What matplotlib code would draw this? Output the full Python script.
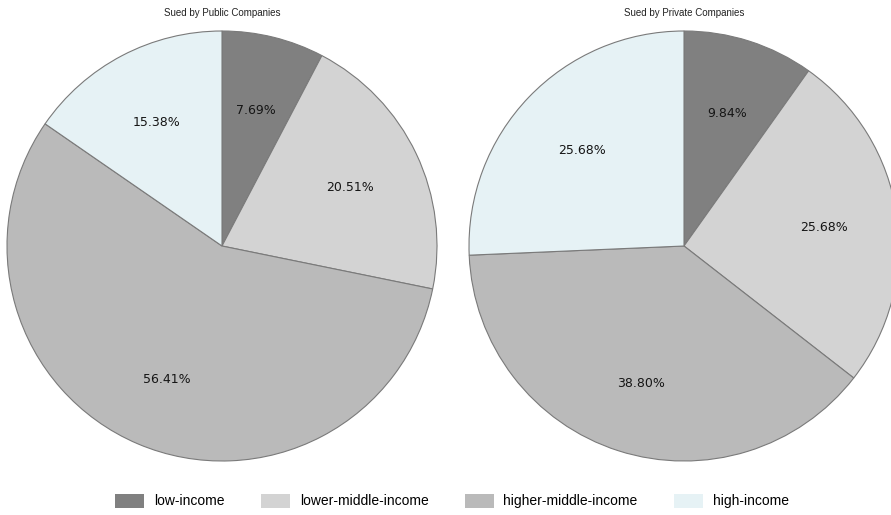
import matplotlib.pyplot as plt
from matplotlib.patches import Patch

plt.rcParams['font.family'] = ['Liberation Sans', 'DejaVu Sans']

categories = ["low-income", "lower-middle-income", "higher-middle-income", "high-income"]
public_pct = [7.69, 20.51, 56.41, 15.38]
private_pct = [9.84, 25.68, 38.80, 25.68]
colors = ["#808080", "#d3d3d3", "#bababa", "#e6f2f5"]

W, H = 891, 515
fig = plt.figure(figsize=(W / 100, H / 100), dpi=100)

def draw_pie(cx, title, values):
    r = 215
    cy = 246
    ax = fig.add_axes([(cx - r) / W, (H - cy - r) / H, 2 * r / W, 2 * r / H])
    wedges, texts, autotexts = ax.pie(
        values, colors=colors, startangle=90, counterclock=False,
        autopct="%.2f%%", pctdistance=0.66,
        wedgeprops=dict(edgecolor="#7a7a7a", linewidth=0.8),
        textprops=dict(fontsize=9, color="#151515", family="DejaVu Sans"))
    # label with the given values, nudged a touch down
    for t, v in zip(autotexts, values):
        t.set_text("%.2f%%" % v)
        x, y = t.get_position()
        t.set_position((x, y - 2.5 / r))
    ax.set_xlim(-1, 1)
    ax.set_ylim(-1, 1)
    ax.set_aspect("equal")
    ax.set_axis_off()
    fig.text(cx / W, 1 - 13 / H, title, ha="center", va="center",
             fontsize=7, color="#222222")
    return ax

draw_pie(222, "Sued by Public Companies", public_pct)
draw_pie(684, "Sued by Private Companies", private_pct)

handles = [Patch(facecolor=c, edgecolor="none") for c in colors]
fig.legend(handles, categories, loc="center", bbox_to_anchor=(452 / W, 1 - 501 / H),
           ncol=4, frameon=False, fontsize=10, handlelength=2.1, handleheight=1.2,
           handletextpad=0.7, columnspacing=2.6)

fig.savefig("out.png", dpi=100)
